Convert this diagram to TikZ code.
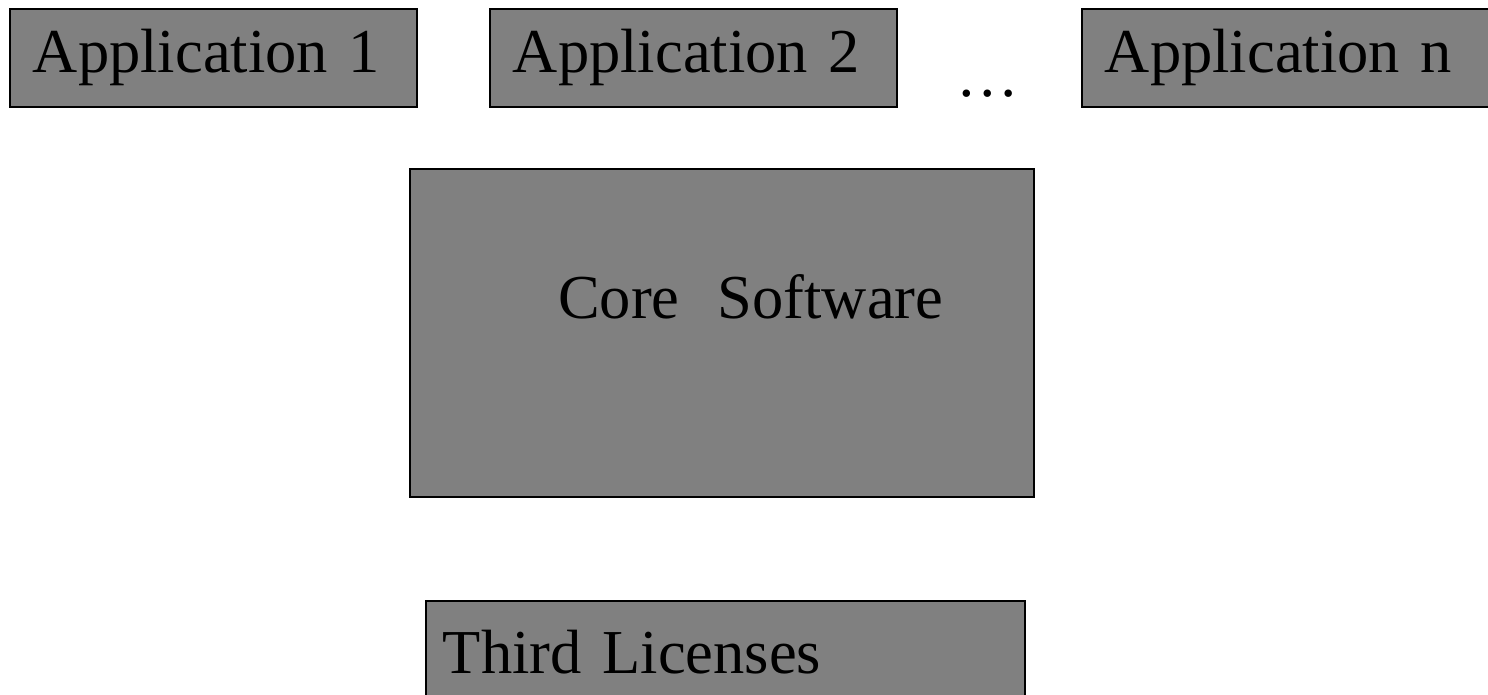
\documentclass[tikz,border=0pt]{standalone}
\usepackage{fontspec}
\setmainfont{Liberation Serif}
\usetikzlibrary{positioning}

\begin{document}
\begin{tikzpicture}[x=1pt, y=-1pt,
every node/.style={%font for all the texts
    inner sep=0pt, font=\fontsize{62.5}{70}\selectfont
    },
layer/.style={draw, line width=1.8pt, fill=gray, anchor=north west},
appbox/.style={layer, minimum height=98pt, text width=361pt, inner xsep=23pt, align=left}
]
\useasboundingbox (0,0) rectangle (1488,695);

% applications on top
\foreach \n/\x/\t in {1/9/Application 1, 2/489/Application 2, n/1081/Application n}
    \node (app\n) [appbox] at (\x,8) {\t};
\node (dots) [anchor=base] at (988,97) {\dots};

% core in the middle
\node (core) [layer, minimum width=624pt, minimum height=328pt] at (409,168) {};
\node (coretitle) [anchor=base west] at ([xshift=149pt, yshift=-150pt]core.north west) {Core\hspace{38pt}Software};

% licenses at the bottom
\node (third) [layer, minimum height=102pt, text width=565pt, inner xsep=17pt, align=left] at (425,600) {Third Licenses};
\end{tikzpicture}
\end{document}
